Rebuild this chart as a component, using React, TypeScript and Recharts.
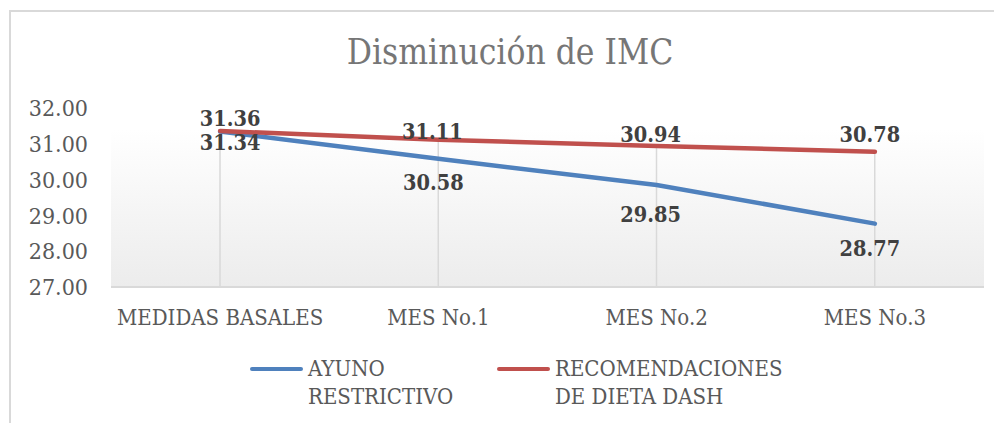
import React from "react";
import {
  ComposedChart,
  Line,
  Bar,
  XAxis,
  YAxis,
  CartesianGrid,
  Legend,
  LabelList,
} from "recharts";

const categories = ["MEDIDAS BASALES", "MES No.1", "MES No.2", "MES No.3"];
const ayunoValues = [31.34, 30.58, 29.85, 28.77];
const dashValues = [31.36, 31.11, 30.94, 30.78];
const seriesNames = ["AYUNO RESTRICTIVO", "RECOMENDACIONES DE DIETA DASH"];
const yTicks = [27, 28, 29, 30, 31, 32];

const BLUE = "#4f81bd";
const RED = "#c0504d";
const SERIF = "'DejaVu Serif Condensed', 'DejaVu Serif', serif";

// label nudges, the way they sit in the original
const ayunoShift = [
  { dx: 10, dy: 11 },
  { dx: -5, dy: 24 },
  { dx: -6, dy: 30 },
  { dx: -5, dy: 25 },
];
const dashShift = [
  { dx: 10, dy: -12 },
  { dx: -6, dy: -8 },
  { dx: -6, dy: -11 },
  { dx: -5, dy: -17 },
];

const chartData = categories.map((cat, i) => ({
  name: cat,
  ayuno: ayunoValues[i],
  dash: dashValues[i],
  drop: Math.max(ayunoValues[i], dashValues[i]),
}));

const makeLabel = (shift: { dx: number; dy: number }[]) => (props: any) => {
  const { x, y, value, index } = props;
  const s = shift[index] || { dx: 0, dy: 0 };
  return (
    <text
      x={x + s.dx}
      y={y + s.dy}
      textAnchor="middle"
      dominantBaseline="central"
      fill="#404040"
      fontFamily={SERIF}
      fontWeight="bold"
      fontSize={21.5}
      style={{ fontStretch: "condensed" }}
    >
      {Number(value).toFixed(2)}
    </text>
  );
};

const DropLine = (props: any) => {
  const { x, y, width, height } = props;
  const cx = x + width / 2;
  return <line x1={cx} x2={cx} y1={y} y2={y + height} stroke="#d9d9d9" strokeWidth={1.5} />;
};

const LegendBox = () => {
  const items = [
    { name: seriesNames[0], color: BLUE, lineLeft: 250, textLeft: 308, lines: ["AYUNO", "RESTRICTIVO"] },
    { name: seriesNames[1], color: RED, lineLeft: 497, textLeft: 555, lines: ["RECOMENDACIONES", "DE DIETA DASH"] },
  ];
  return (
    <div style={{ position: "relative", width: 1002, height: 60 }}>
      {items.map((it) => (
        <React.Fragment key={it.name}>
          <div
            style={{
              position: "absolute",
              left: it.lineLeft,
              top: 12,
              width: 53,
              height: 4,
              borderRadius: 2,
              background: it.color,
            }}
          />
          <div
            style={{
              position: "absolute",
              left: it.textLeft,
              top: 0,
              fontFamily: SERIF,
              fontStretch: "condensed",
              fontSize: 22,
              lineHeight: "27.5px",
              color: "#595959",
              whiteSpace: "nowrap",
              textAlign: "left",
            }}
          >
            {it.lines.map((l) => (
              <div key={l}>{l}</div>
            ))}
          </div>
        </React.Fragment>
      ))}
    </div>
  );
};

const App: React.FC = () => {
  return (
    <div
      style={{
        position: "relative",
        width: 1002,
        height: 431,
        margin: -8,
        overflow: "hidden",
        background: "#fff",
      }}
    >
      <div
        style={{
          position: "absolute",
          left: 9,
          top: 10,
          width: 986,
          height: 440,
          border: "2px solid #d9d9d9",
        }}
      />
      <div
        style={{
          position: "absolute",
          left: 510,
          top: 35,
          transform: "translateX(-50%)",
          fontFamily: SERIF,
          fontStretch: "condensed",
          fontSize: 35,
          lineHeight: "35px",
          color: "#767676",
          whiteSpace: "nowrap",
        }}
      >
        Disminución de IMC
      </div>
      <div style={{ position: "absolute", left: 0, top: 0 }}>
        <ComposedChart
          width={1002}
          height={431}
          data={chartData}
          margin={{ top: 108, right: 18, left: 0, bottom: 44 }}
        >
          <defs>
            <linearGradient id="plotGrad" x1="0" y1="0" x2="0" y2="1">
              <stop offset="0%" stopColor="#ffffff" />
              <stop offset="12%" stopColor="#ffffff" />
              <stop offset="100%" stopColor="#ececec" />
            </linearGradient>
          </defs>
          <CartesianGrid horizontal={false} vertical={false} fill="url(#plotGrad)" stroke="none" />
          <XAxis
            dataKey="name"
            height={40}
            tickSize={0}
            tickMargin={22}
            axisLine={{ stroke: "#d9d9d9", strokeWidth: 2 }}
            tickLine={false}
            tick={{ fill: "#595959", fontSize: 22, fontFamily: SERIF, style: { fontStretch: "condensed" } }}
            interval={0}
          />
          <YAxis
            width={111}
            domain={[27, 32]}
            ticks={yTicks}
            tickFormatter={(v: number) => v.toFixed(2)}
            axisLine={false}
            tickLine={false}
            tickSize={0}
            tickMargin={23}
            tick={{ fill: "#595959", fontSize: 23, fontFamily: SERIF, style: { fontStretch: "condensed" } }}
          />
          <Bar dataKey="drop" barSize={2} shape={<DropLine />} isAnimationActive={false} legendType="none" />
          <Line
            dataKey="ayuno"
            name={seriesNames[0]}
            stroke={BLUE}
            strokeWidth={4.5}
            strokeLinecap="round"
            dot={false}
            activeDot={false}
            isAnimationActive={false}
          >
            <LabelList dataKey="ayuno" content={makeLabel(ayunoShift)} />
          </Line>
          <Line
            dataKey="dash"
            name={seriesNames[1]}
            stroke={RED}
            strokeWidth={4.5}
            strokeLinecap="round"
            dot={false}
            activeDot={false}
            isAnimationActive={false}
          >
            <LabelList dataKey="dash" content={makeLabel(dashShift)} />
          </Line>
          <Legend
            verticalAlign="bottom"
            content={() => <LegendBox />}
            wrapperStyle={{ position: "absolute", top: 355, left: 0, width: 1002, height: 60 }}
          />
        </ComposedChart>
      </div>
    </div>
  );
};

export default App;
